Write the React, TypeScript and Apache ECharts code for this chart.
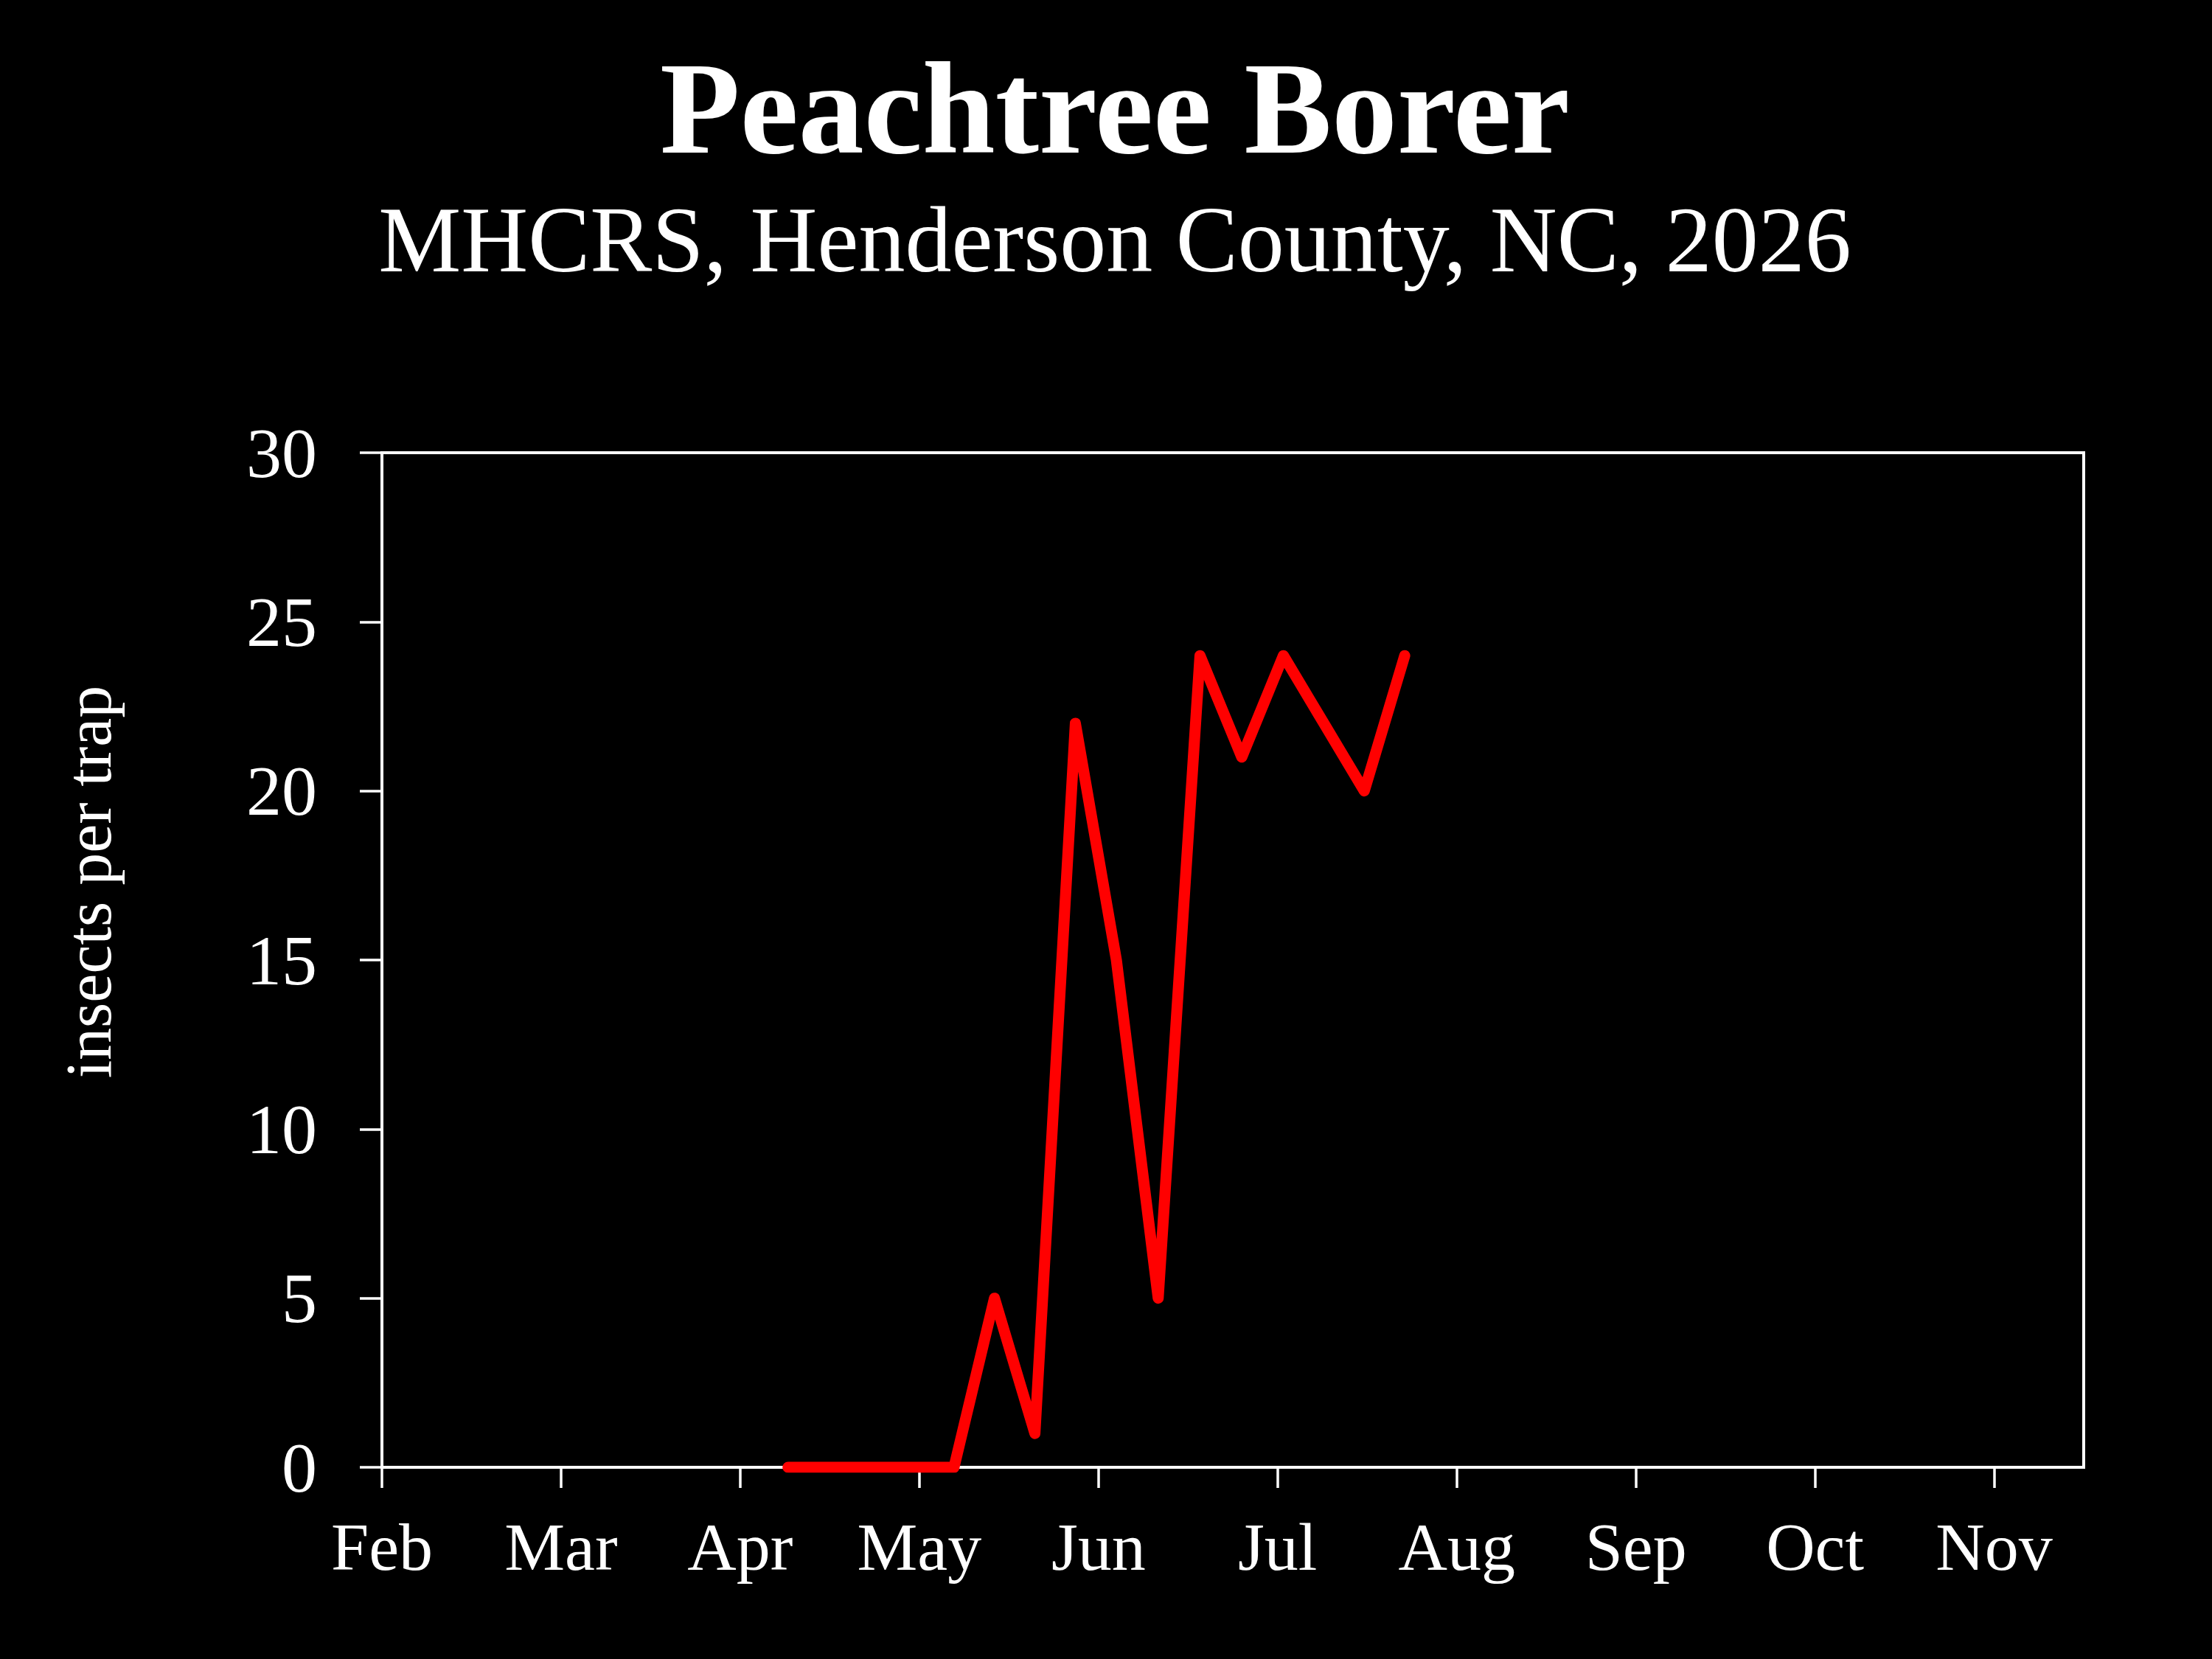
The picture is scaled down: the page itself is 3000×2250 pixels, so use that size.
import React, { useEffect, useRef } from "react";
import * as echarts from "echarts";

const TITLE = "Peachtree Borer";
const SUBTITLE = "MHCRS, Henderson County, NC, 2026";
const Y_NAME = "insects per trap";
const MONTHS = ["Feb", "Mar", "Apr", "May", "Jun", "Jul", "Aug", "Sep", "Oct", "Nov"];
const TRAP_DATES = [
  "2026-04-09", "2026-04-16", "2026-04-23", "2026-04-30",
  "2026-05-07", "2026-05-14", "2026-05-21", "2026-05-28",
  "2026-06-04", "2026-06-11", "2026-06-18", "2026-06-25",
  "2026-07-02", "2026-07-09", "2026-07-16", "2026-07-23",
];
const TRAP_COUNTS = [0, 0, 0, 0, 0, 5, 1, 22, 15, 5, 24, 21, 24, 22, 20, 24];
const Y_MIN = 0;
const Y_MAX = 30;
const Y_STEP = 5;

// position in months since Feb 1 (each month drawn with equal width)
function monthPos(d: string): number {
  const [y, m, day] = d.split("-").map(Number);
  const dim = new Date(y, m, 0).getDate();
  return m - 2 + (day - 1) / dim;
}

const FONT = "'Liberation Serif', 'DejaVu Serif', serif";

export default function App() {
  const ref = useRef<HTMLDivElement>(null);
  useEffect(() => {
    document.body.style.margin = "0";
    document.body.style.background = "#000";
    const chart = echarts.init(ref.current!, null, { renderer: "svg" });
    const data = TRAP_DATES.map((d, i) => [monthPos(d), TRAP_COUNTS[i]]);
    const tickVals = MONTHS.map((_, i) => i);
    chart.setOption({
      animation: false,
      backgroundColor: "#000",
      grid: {
        left: 518,
        right: 174,
        top: 614,
        bottom: 260,
        show: true,
        borderColor: "#fff",
        borderWidth: 4,
        backgroundColor: "transparent",
      },
      graphic: [
        {
          type: "text",
          x: 1512,
          y: 147,
          style: {
            text: TITLE,
            fill: "#fff",
            font: `bold 178px ${FONT}`,
            align: "center",
            verticalAlign: "middle",
          },
        },
        {
          type: "text",
          x: 1512,
          y: 325,
          style: {
            text: SUBTITLE,
            fill: "#fff",
            font: `126px ${FONT}`,
            align: "center",
            verticalAlign: "middle",
          },
        },
        {
          type: "text",
          x: 120,
          y: 1196,
          rotation: Math.PI / 2,
          style: {
            text: Y_NAME,
            fill: "#fff",
            font: `88px ${FONT}`,
            align: "center",
            verticalAlign: "middle",
          },
        },
      ],
      xAxis: {
        type: "value",
        min: 0,
        max: MONTHS.length - 0.5,
        interval: 1,
        splitLine: { show: false },
        axisLine: { show: true, lineStyle: { color: "#fff", width: 4 } },
        axisTick: {
          show: true,
          length: 28,
          lineStyle: { color: "#fff", width: 3.5 },
          customValues: tickVals,
        },
        axisLabel: {
          color: "#fff",
          fontFamily: FONT,
          fontSize: 92,
          margin: 62,
          customValues: tickVals,
          formatter: (v: number) => MONTHS[Math.round(v)] ?? "",
        },
      },
      yAxis: {
        type: "value",
        min: Y_MIN,
        max: Y_MAX,
        interval: Y_STEP,
        splitLine: { show: false },
        axisLine: { show: true, lineStyle: { color: "#fff", width: 4 } },
        axisTick: { show: true, length: 30, lineStyle: { color: "#fff", width: 3.5 } },
        axisLabel: {
          color: "#fff",
          fontFamily: FONT,
          fontSize: 96,
          margin: 88,
        },
      },
      series: [
        {
          type: "line",
          data,
          showSymbol: false,
          symbol: "none",
          lineStyle: { color: "#ff0000", width: 15, cap: "round", join: "round" },
          z: 1,
        },
      ],
    });
    return () => chart.dispose();
  }, []);
  return (
    <div
      ref={ref}
      style={{ position: "absolute", left: 0, top: 0, width: 3000, height: 2250, background: "#000" }}
    />
  );
}
